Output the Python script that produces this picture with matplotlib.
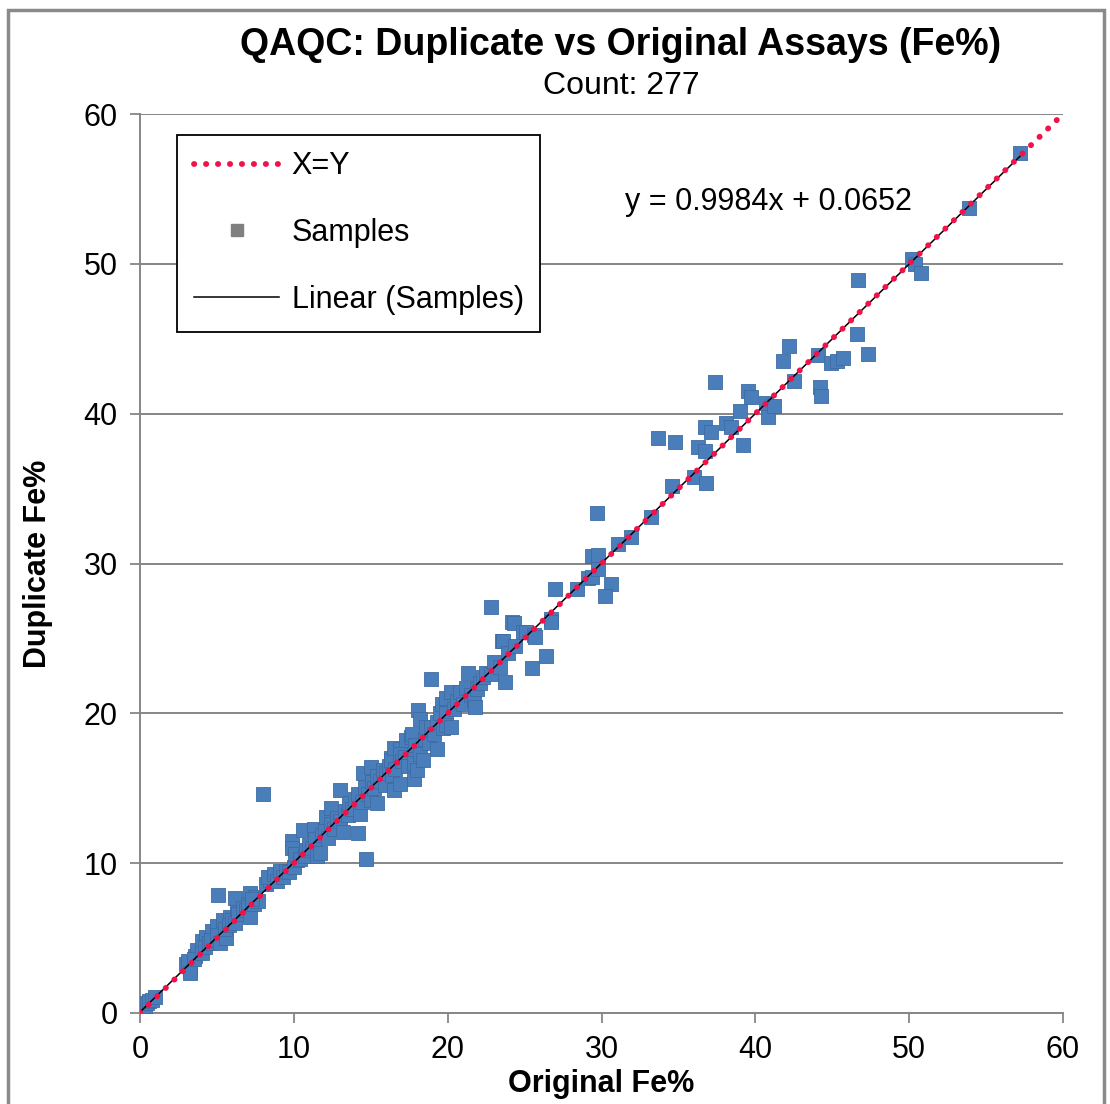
import matplotlib
matplotlib.use("Agg")
import matplotlib.pyplot as plt
from matplotlib.lines import Line2D
from matplotlib.patches import Rectangle

plt.rcParams['font.family'] = ['Liberation Sans', 'DejaVu Sans']

# Original vs duplicate assay values (Fe%)
orig = [0.1, 0.2, 0.3, 0.43, 0.6, 0.76, 1.0,
        3.0, 3.25, 3.1, 3.25, 3.6, 3.7, 3.5, 4.0, 4.0, 4.3, 4.2, 4.5, 4.7, 4.6, 5.0, 5.0,
        5.2, 5.4, 5.6, 5.5, 5.85, 5.8, 6.0, 6.3, 6.2, 6.5, 6.4, 6.2, 6.7, 6.9, 7.15, 7.0,
        7.15, 7.5, 7.4, 7.7, 7.3, 5.1, 8.0,
        8.2, 8.45, 8.3, 8.7, 8.9, 9.1, 9.3, 9.5, 9.7, 9.9, 9.9, 10.0, 10.2, 10.1, 10.4,
        10.6, 10.7, 10.8, 11.0, 11.3, 11.2, 11.5, 11.4, 11.7, 11.8, 12.0, 12.1, 12.2, 12.4,
        12.4, 12.6, 12.8, 13.0, 13.0, 13.2, 13.3, 13.5, 13.6, 13.8, 14.0, 14.2, 14.3, 14.2,
        14.4, 14.5, 14.6, 14.7, 14.8, 15.0, 15.0, 15.1, 15.2, 15.4, 15.4, 15.6, 15.8, 15.9,
        16.0, 16.3, 16.2, 16.3, 16.5, 16.5, 16.4, 16.6, 16.9, 16.9, 16.9, 17.0, 17.2, 17.3,
        17.4, 17.6, 17.7, 17.8, 17.8, 17.9, 18.0, 18.1, 18.2, 18.2, 18.4, 18.5, 18.6, 18.8,
        18.9, 18.9, 19.1, 19.3, 19.3, 19.5, 19.6, 19.7, 19.9, 19.9, 19.9, 20.2, 20.2, 20.4,
        20.6, 20.8, 21.0, 21.2, 21.3, 21.5, 21.7, 21.8, 21.9, 22.1, 22.3, 22.5, 22.8, 22.8,
        23.0, 23.4, 23.5, 23.6, 23.7, 23.9, 24.2, 24.3, 24.4, 24.9, 25.1, 25.5, 25.6, 25.7,
        26.4, 26.7, 26.7, 27.0, 28.4, 29.1, 29.4, 29.4, 29.8, 29.8, 29.7, 30.6, 30.2, 31.1,
        31.9, 33.2, 33.7, 34.6, 34.8, 36.0, 36.3, 36.7, 36.7, 36.8, 37.1, 37.4, 38.1, 38.4,
        39.0, 39.2, 39.5, 39.7, 40.7, 40.8, 41.2, 41.8, 42.2, 42.5, 44.2, 44.3, 44.1, 44.9,
        45.3, 45.7, 46.6, 46.7, 47.3, 50.2, 50.4, 50.8, 53.9, 57.2]
dup = [0.4, 0.2, 0.5, 0.65, 0.8, 0.87, 1.1,
       3.3, 2.9, 3.5, 2.65, 3.8, 4.2, 3.6, 4.8, 4.0, 5.1, 4.4, 4.7, 5.5, 4.9, 5.8, 5.2,
       4.65, 6.2, 5.0, 5.6, 6.4, 5.9, 6.2, 6.9, 6.0, 7.3, 6.6, 7.65, 7.0, 6.9, 6.4, 7.3,
       8.0, 7.75, 7.3, 7.5, 7.6, 7.9, 14.6,
       8.6, 8.9, 9.1, 9.3, 8.8, 9.5, 9.1, 9.5, 9.4, 11.5, 11.0, 9.75, 10.2, 10.6, 10.3,
       12.2, 10.5, 10.9, 11.2, 12.3, 11.0, 10.5, 11.6, 10.7, 11.9, 12.2, 13.1, 11.7, 13.7,
       12.6, 12.3, 13.0, 14.9, 12.8, 12.1, 13.5, 13.2, 14.0, 13.6, 14.3, 12.0, 13.3, 14.6,
       14.1, 16.0, 15.1, 10.3, 14.6, 16.4, 14.2, 15.4, 15.0, 14.0, 15.8, 15.5, 16.2, 15.2,
       16.0, 17.0, 16.5, 16.9, 14.9, 17.7, 15.9, 16.3, 17.6, 15.3, 17.3, 16.8, 17.1, 18.2,
       16.5, 18.4, 18.6, 15.6, 16.7, 17.9, 16.2, 20.2, 19.6, 17.3, 16.9, 18.3, 19.1, 18.0,
       19.1, 22.3, 18.6, 17.6, 19.4, 20.0, 20.6, 19.0, 20.0, 21.0, 19.2, 21.4, 19.1, 20.3,
       20.8, 21.4, 20.6, 21.7, 22.7, 21.2, 20.9, 20.4, 21.6, 22.0, 22.4, 22.7, 27.1, 22.6,
       23.4, 23.1, 24.8, 24.8, 22.1, 24.0, 26.1, 26.0, 24.5, 25.4, 25.4, 23.0, 25.2, 25.1,
       23.8, 26.3, 26.1, 28.3, 28.3, 29.0, 29.1, 30.5, 30.6, 29.6, 33.4, 28.6, 27.8, 31.3,
       31.8, 33.1, 38.4, 35.2, 38.1, 35.8, 37.8, 37.5, 39.1, 35.4, 38.8, 42.1, 39.4, 39.1,
       40.2, 37.9, 41.5, 41.1, 40.7, 39.8, 40.5, 43.5, 44.5, 42.2, 41.8, 41.2, 43.9, 43.4,
       43.5, 43.7, 45.3, 48.9, 44.0, 50.3, 50.0, 49.4, 53.7, 57.4]

slope = 0.9984
intercept = 0.0652
count = 277
ticks = [0, 10, 20, 30, 40, 50, 60]

W, H = 1110, 1104
fig = plt.figure(figsize=(W / 100, H / 100), dpi=100)
ax = fig.add_axes([140 / W, 1 - 1013 / H, 923 / W, 899 / H])

grey = '#868686'
red = '#f2124a'
dots = (0, (0.05, 2.0))

ax.scatter(orig, dup, marker='s', s=105, color='#4a7ebb', edgecolor='#3d6ca3',
           linewidth=0.6, zorder=3)

xfit = [min(orig), max(orig)]
ax.plot(xfit, [slope * v + intercept for v in xfit], color='black', lw=1.1, zorder=4)
ax.plot([0, 60], [0, 60], color=red, linestyle=dots, lw=4.2,
        dash_capstyle='round', zorder=5)

ax.set_xlim(0, 60)
ax.set_ylim(0, 60)
ax.set_xticks(ticks)
ax.set_yticks(ticks)
ax.tick_params(labelsize=22, length=7, width=1.3, color=grey, pad=9)
ax.yaxis.grid(True, color=grey, lw=1.4)
ax.set_axisbelow(True)
for s in ['top', 'right']:
    ax.spines[s].set_visible(False)
for s in ['left', 'bottom']:
    ax.spines[s].set_color(grey)
    ax.spines[s].set_linewidth(1.4)

ax.set_xlabel('Original Fe%', fontsize=22, fontweight='bold', labelpad=3)
ax.set_ylabel('Duplicate Fe%', fontsize=22, fontweight='bold', labelpad=22)

ax.text(0.681, 0.902, 'y = 0.9984x + 0.0652', transform=ax.transAxes,
        fontsize=22, ha='center', va='center')

fig.text(621 / W, 1 - 45 / H, 'QAQC: Duplicate vs Original Assays (Fe%)',
         fontsize=27, fontweight='bold', ha='center', va='center')
fig.text(621 / W, 1 - 86 / H, 'Count: %d' % count, fontsize=23, ha='center', va='center')

handles = [
    Line2D([], [], color=red, linestyle=dots, lw=4.2, dash_capstyle='round'),
    Line2D([], [], linestyle='none', marker='s', markersize=8, color='#7f7f7f'),
    Line2D([], [], color='black', lw=1.1),
]
leg = ax.legend(handles, ['X=Y', 'Samples', 'Linear (Samples)'], loc='upper left',
                bbox_to_anchor=(0.040, 0.977), borderaxespad=0, fontsize=22,
                frameon=True, fancybox=False, edgecolor='black', framealpha=1,
                handlelength=2.8, handletextpad=0.4, labelspacing=1.2, borderpad=0.55)
leg.get_frame().set_linewidth(1.3)

fig.patches.append(Rectangle((8 / W, -0.01), 1096 / W, 1 - 10 / H + 0.01,
                             transform=fig.transFigure, fill=False,
                             edgecolor='#8a8a8a', lw=2.5))

fig.savefig('out.png', dpi=100)
